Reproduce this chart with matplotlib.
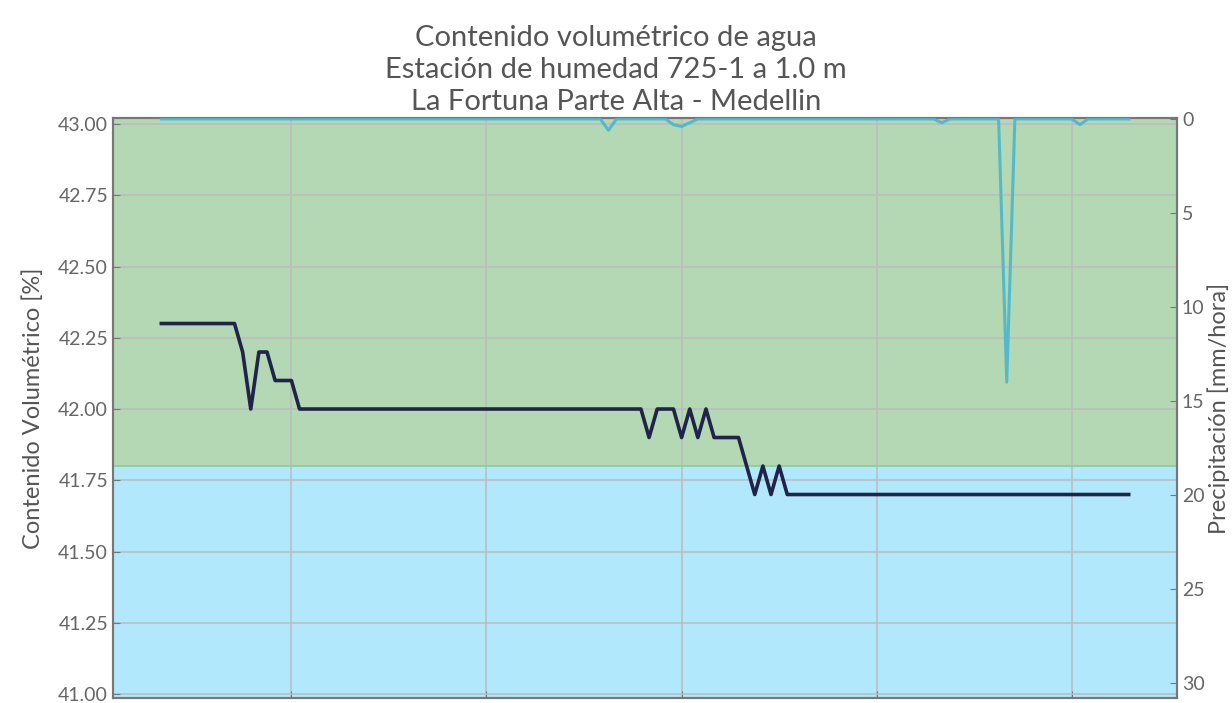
import numpy as np
import pandas as pd
import matplotlib.pyplot as plt
import matplotlib.dates as mdates

plt.rcParams['font.family'] = ['Lato', 'DejaVu Sans']

# hourly series, 120 readings
fechas = pd.date_range('2019-05-01 08:00', periods=120, freq='h')

humedad = ([42.3] * 10 + [42.2, 42.0, 42.2, 42.2, 42.1, 42.1, 42.1]
           + [42.0] * 43
           + [41.9, 42.0, 42.0, 42.0, 41.9, 42.0, 41.9, 42.0, 41.9, 41.9, 41.9, 41.9,
              41.8, 41.7, 41.8, 41.7, 41.8]
           + [41.7] * 43)

lluvia = [0.0] * 120
lluvia[55] = 0.6
lluvia[63] = 0.3
lluvia[64] = 0.4
lluvia[65] = 0.2
lluvia[96] = 0.2
lluvia[104] = 14.0
lluvia[113] = 0.3

umbral = 41.8
gris = '#555555'

fig = plt.figure(figsize=(12.32, 7.03), dpi=100)
ax = fig.add_axes([0.0917, 0.0071, 0.8637, 0.8250])

ax.axhspan(umbral, 44, color='#b3d8b3', zorder=0, lw=0)
ax.axhspan(40, umbral, color='#b2e8fc', zorder=0, lw=0)
ax.axhline(umbral, color='#86cba4', lw=1.2, zorder=1)

ax.plot(fechas, humedad, color='#1f2448', lw=2.6, zorder=4)
ax.set_ylim(40.986, 43.021)
ax.set_yticks(np.arange(41.0, 43.01, 0.25))
ax.yaxis.set_major_formatter(plt.FormatStrFormatter('%.2f'))
ax.xaxis.set_major_locator(mdates.DayLocator())
ax.grid(True, color='#bbbbbb', lw=1.1, zorder=1)
ax.set_axisbelow(True)
ax.tick_params(axis='both', direction='in', colors='#777777', labelsize=14, length=5)
ax.tick_params(axis='both', labelcolor='#666666')
ax.tick_params(axis='x', labelbottom=False)
ax.set_ylabel('Contenido Volumétrico [%]', fontsize=17, color=gris, labelpad=10)

ax2 = ax.twinx()
ax2.plot(fechas, lluvia, color='#4ab7cc', lw=2.2, alpha=0.9, zorder=3)
ax2.set_ylim(30.8, -0.05)
ax2.set_yticks(np.arange(0, 31, 5))
ax2.tick_params(axis='y', direction='in', colors='#777777', labelsize=14, length=5)
ax2.tick_params(axis='y', labelcolor='#666666')
ax2.set_ylabel('Precipitación [mm/hora]', fontsize=17, color=gris, labelpad=2)

for a in (ax, ax2):
    for s in a.spines.values():
        s.set_color('#777777')
        s.set_linewidth(1.5)

fig.suptitle('Contenido volumétrico de agua\nEstación de humedad 725-1 a 1.0 m\n'
             'La Fortuna Parte Alta - Medellin',
             fontsize=21, color=gris, y=0.965, linespacing=1.3)

fig.savefig('out.png', dpi=100)
